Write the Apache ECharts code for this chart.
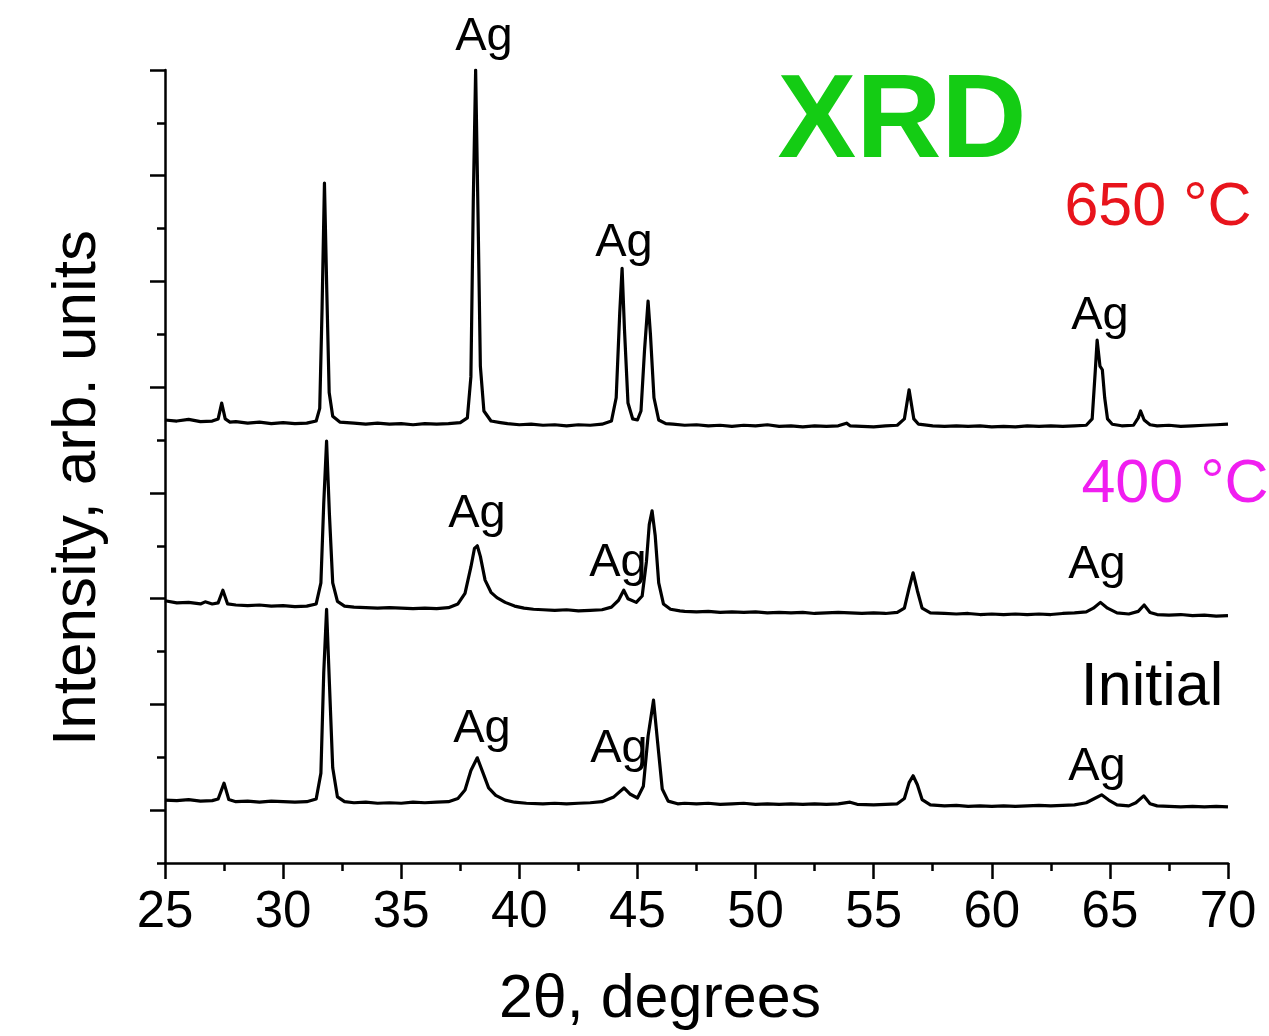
<!DOCTYPE html>
<html>
<head>
<meta charset="utf-8">
<script src="https://cdn.jsdelivr.net/npm/echarts@6/dist/echarts.min.js"></script>
<style>
  html, body { margin: 0; padding: 0; background: #fff; }
  #chart { width: 1269px; height: 1036px; }
</style>
</head>
<body>
<div id="chart"></div>
<script>
// XRD patterns (2theta in degrees, intensity in arb. units)
const xTicks = [25, 30, 35, 40, 45, 50, 55, 60, 65, 70];
const yMajorTicks = [1, 3, 5, 7, 9, 11, 13, 15];
const yMinorTicks = [0, 2, 4, 6, 8, 10, 12, 14];

const curve650 = [
  [25.0, 8.38], [25.5, 8.36], [26.0, 8.39], [26.5, 8.35], [27.0, 8.36], [27.25, 8.40], [27.4, 8.70], [27.55, 8.40],
  [27.75, 8.34], [28.0, 8.35], [28.5, 8.32], [29.0, 8.34], [29.5, 8.31], [30.0, 8.33], [30.5, 8.31], [31.0, 8.32],
  [31.4, 8.36], [31.55, 8.6], [31.65, 10.5], [31.75, 12.86], [31.85, 10.8], [31.95, 8.9], [32.1, 8.45], [32.4, 8.34],
  [33.0, 8.32], [33.5, 8.30], [34.0, 8.32], [34.5, 8.30], [35.0, 8.31], [35.5, 8.29], [36.0, 8.31], [36.5, 8.30],
  [37.0, 8.31], [37.5, 8.33], [37.8, 8.42], [37.95, 9.2], [38.05, 12.5], [38.15, 15.0], [38.25, 12.3], [38.35, 9.4],
  [38.5, 8.55], [38.8, 8.36], [39.2, 8.33], [39.5, 8.31], [40.0, 8.29], [40.5, 8.30], [41.0, 8.28], [41.5, 8.29],
  [42.0, 8.27], [42.5, 8.29], [43.0, 8.28], [43.5, 8.30], [43.9, 8.36], [44.1, 8.8], [44.25, 10.4], [44.35, 11.25],
  [44.45, 10.1], [44.6, 8.7], [44.8, 8.40], [45.0, 8.38], [45.15, 8.55], [45.3, 9.7], [45.45, 10.63], [45.55, 10.0],
  [45.7, 8.8], [45.9, 8.38], [46.2, 8.31], [46.5, 8.30], [47.0, 8.28], [47.5, 8.29], [48.0, 8.27], [48.5, 8.28],
  [49.0, 8.26], [49.5, 8.28], [50.0, 8.27], [50.5, 8.29], [51.0, 8.26], [51.5, 8.27], [52.0, 8.25], [52.5, 8.27],
  [53.0, 8.26], [53.5, 8.27], [53.85, 8.32], [54.0, 8.27], [54.5, 8.26], [55.0, 8.25], [55.5, 8.27], [56.0, 8.28],
  [56.3, 8.40], [56.5, 8.95], [56.7, 8.40], [56.9, 8.30], [57.5, 8.27], [58.0, 8.26], [58.5, 8.27], [59.0, 8.26],
  [59.5, 8.27], [60.0, 8.25], [60.5, 8.26], [61.0, 8.25], [61.5, 8.27], [62.0, 8.26], [62.5, 8.27], [63.0, 8.26],
  [63.5, 8.27], [64.0, 8.28], [64.25, 8.40], [64.38, 9.3], [64.46, 9.89], [64.58, 9.4], [64.68, 9.33], [64.78, 8.8],
  [64.9, 8.40], [65.1, 8.30], [65.5, 8.27], [66.0, 8.28], [66.2, 8.42], [66.3, 8.55], [66.45, 8.38], [66.7, 8.29],
  [67.0, 8.27], [67.5, 8.28], [68.0, 8.26], [68.5, 8.27], [69.0, 8.28], [69.5, 8.29], [70.0, 8.30]
];

const curve400 = [
  [25.0, 4.96], [25.5, 4.92], [26.0, 4.93], [26.5, 4.90], [26.7, 4.94], [27.0, 4.90], [27.25, 4.92], [27.45, 5.16],
  [27.65, 4.90], [28.0, 4.88], [28.5, 4.87], [29.0, 4.88], [29.5, 4.86], [30.0, 4.87], [30.5, 4.85], [31.0, 4.86],
  [31.4, 4.90], [31.6, 5.3], [31.72, 6.8], [31.84, 7.98], [31.96, 6.6], [32.1, 5.3], [32.3, 4.95], [32.6, 4.86],
  [33.0, 4.84], [33.5, 4.83], [34.0, 4.82], [34.5, 4.83], [35.0, 4.82], [35.5, 4.81], [36.0, 4.82], [36.5, 4.81],
  [37.0, 4.83], [37.4, 4.90], [37.7, 5.1], [37.95, 5.6], [38.1, 5.95], [38.22, 6.0], [38.35, 5.8], [38.55, 5.35],
  [38.8, 5.12], [39.05, 5.02], [39.4, 4.93], [39.8, 4.86], [40.2, 4.82], [40.6, 4.80], [41.0, 4.79], [41.5, 4.78],
  [42.0, 4.79], [42.5, 4.77], [43.0, 4.78], [43.5, 4.79], [43.9, 4.84], [44.2, 4.97], [44.42, 5.16], [44.6, 5.0],
  [44.95, 4.93], [45.2, 5.05], [45.38, 5.7], [45.5, 6.4], [45.62, 6.66], [45.75, 6.2], [45.9, 5.3], [46.1, 4.9],
  [46.4, 4.80], [46.8, 4.77], [47.0, 4.76], [47.5, 4.75], [48.0, 4.76], [48.5, 4.74], [49.0, 4.75], [49.5, 4.74],
  [50.0, 4.75], [50.5, 4.73], [51.0, 4.74], [51.5, 4.73], [52.0, 4.74], [52.5, 4.72], [53.0, 4.73], [53.5, 4.74],
  [54.0, 4.73], [54.5, 4.72], [55.0, 4.73], [55.5, 4.72], [56.0, 4.74], [56.3, 4.82], [56.5, 5.2], [56.67, 5.49],
  [56.85, 5.15], [57.05, 4.82], [57.4, 4.73], [58.0, 4.72], [58.5, 4.71], [59.0, 4.72], [59.5, 4.70], [60.0, 4.71],
  [60.5, 4.70], [61.0, 4.71], [61.5, 4.70], [62.0, 4.71], [62.5, 4.70], [63.0, 4.72], [63.5, 4.73], [64.0, 4.75],
  [64.3, 4.82], [64.6, 4.93], [64.9, 4.82], [65.3, 4.73], [65.8, 4.71], [66.2, 4.76], [66.45, 4.88], [66.7, 4.74],
  [67.0, 4.70], [67.5, 4.69], [68.0, 4.70], [68.5, 4.68], [69.0, 4.69], [69.5, 4.67], [70.0, 4.68]
];

const curveInitial = [
  [25.0, 1.19], [25.5, 1.18], [26.0, 1.20], [26.5, 1.17], [27.0, 1.18], [27.25, 1.21], [27.5, 1.51], [27.7, 1.20],
  [28.0, 1.16], [28.5, 1.17], [29.0, 1.15], [29.5, 1.17], [30.0, 1.16], [30.5, 1.15], [31.0, 1.16], [31.4, 1.21],
  [31.6, 1.7], [31.72, 3.6], [31.84, 4.80], [31.96, 3.4], [32.1, 1.8], [32.3, 1.25], [32.6, 1.16], [33.0, 1.14],
  [33.5, 1.15], [34.0, 1.13], [34.5, 1.14], [35.0, 1.13], [35.5, 1.15], [36.0, 1.14], [36.5, 1.15], [37.0, 1.16],
  [37.4, 1.22], [37.7, 1.38], [37.95, 1.75], [38.22, 1.99], [38.45, 1.72], [38.7, 1.42], [39.0, 1.28], [39.4, 1.19],
  [39.8, 1.15], [40.3, 1.13], [41.0, 1.12], [41.5, 1.13], [42.0, 1.12], [42.5, 1.13], [43.0, 1.14], [43.5, 1.16],
  [44.0, 1.25], [44.43, 1.42], [44.7, 1.30], [45.0, 1.23], [45.25, 1.45], [45.45, 2.4], [45.68, 3.08], [45.85, 2.3],
  [46.05, 1.4], [46.3, 1.17], [46.7, 1.12], [47.0, 1.13], [47.5, 1.12], [48.0, 1.13], [48.5, 1.11], [49.0, 1.12],
  [49.5, 1.13], [50.0, 1.11], [50.5, 1.12], [51.0, 1.11], [51.5, 1.12], [52.0, 1.11], [52.5, 1.12], [53.0, 1.11],
  [53.5, 1.12], [54.0, 1.15], [54.3, 1.11], [55.0, 1.10], [55.5, 1.11], [56.0, 1.12], [56.3, 1.22], [56.5, 1.52],
  [56.67, 1.65], [56.85, 1.48], [57.05, 1.2], [57.4, 1.10], [58.0, 1.08], [58.5, 1.09], [59.0, 1.07], [59.5, 1.08],
  [60.0, 1.07], [60.5, 1.08], [61.0, 1.07], [61.5, 1.08], [62.0, 1.09], [62.5, 1.08], [63.0, 1.09], [63.5, 1.10],
  [64.0, 1.14], [64.35, 1.22], [64.65, 1.29], [64.95, 1.19], [65.3, 1.10], [65.8, 1.08], [66.1, 1.14], [66.43, 1.27],
  [66.7, 1.12], [67.0, 1.08], [67.5, 1.07], [68.0, 1.06], [68.5, 1.07], [69.0, 1.06], [69.5, 1.07], [70.0, 1.06]
];

const FONT = '"Liberation Sans", Arial, Helvetica, sans-serif';

const chart = echarts.init(document.getElementById('chart'), null, { renderer: 'canvas' });

function agText(x, y) {
  return {
    type: 'text', x: x, y: y,
    style: { text: 'Ag', fill: '#000', font: '47px ' + FONT, textAlign: 'center', textVerticalAlign: 'middle' }
  };
}

function curveSeries(name, data) {
  return {
    name: name,
    type: 'line',
    data: data,
    showSymbol: false,
    symbol: 'none',
    lineStyle: { color: '#000', width: 3.2, join: 'round' },
    smooth: false,
    xAxisIndex: 0,
    yAxisIndex: 0
  };
}

const option = {
  animation: false,
  backgroundColor: '#fff',
  grid: { left: 165, right: 41, top: 70, bottom: 173 },
  xAxis: {
    type: 'value',
    min: 25,
    max: 70,
    interval: 5,
    axisLine: { show: true, onZero: false, lineStyle: { color: '#000', width: 2.5 } },
    axisTick: { show: true, inside: false, length: 16, lineStyle: { color: '#000', width: 2.5 } },
    minorTick: { show: true, splitNumber: 2, length: 8, lineStyle: { color: '#000', width: 2.5 } },
    axisLabel: { color: '#000', fontSize: 51, fontFamily: FONT, margin: 24 },
    splitLine: { show: false }
  },
  yAxis: [
    {
      type: 'value',
      min: 0,
      max: 15,
      position: 'left',
      axisLine: { show: true, onZero: false, lineStyle: { color: '#000', width: 2.5 } },
      axisTick: { show: true, inside: false, length: 15, customValues: yMajorTicks, lineStyle: { color: '#000', width: 2.5 } },
      axisLabel: { show: false },
      splitLine: { show: false }
    },
    {
      type: 'value',
      min: 0,
      max: 15,
      position: 'left',
      axisLine: { show: false },
      axisTick: { show: true, inside: false, length: 8, customValues: yMinorTicks, lineStyle: { color: '#000', width: 2.5 } },
      axisLabel: { show: false },
      splitLine: { show: false }
    }
  ],
  series: [
    curveSeries('Initial', curveInitial),
    curveSeries('400 °C', curve400),
    curveSeries('650 °C', curve650)
  ],
  graphic: [
    {
      type: 'text', x: 78, y: 488, rotation: Math.PI / 2,
      style: { text: 'Intensity, arb. units', fill: '#000', font: '62px ' + FONT, textAlign: 'center', textVerticalAlign: 'middle' }
    },
    {
      type: 'text', x: 660, y: 1000,
      style: { text: '2θ, degrees', fill: '#000', font: '61px ' + FONT, textAlign: 'center', textVerticalAlign: 'middle' }
    },
    {
      type: 'text', x: 902, y: 124,
      style: { text: 'XRD', fill: '#14cc14', font: 'bold 118px ' + FONT, textAlign: 'center', textVerticalAlign: 'middle' }
    },
    {
      type: 'text', x: 1158, y: 208,
      style: { text: '650 °C', fill: '#e8141c', font: '61px ' + FONT, textAlign: 'center', textVerticalAlign: 'middle' }
    },
    {
      type: 'text', x: 1175, y: 485,
      style: { text: '400 °C', fill: '#f01ef0', font: '61px ' + FONT, textAlign: 'center', textVerticalAlign: 'middle' }
    },
    {
      type: 'text', x: 1152, y: 688,
      style: { text: 'Initial', fill: '#000', font: '61px ' + FONT, textAlign: 'center', textVerticalAlign: 'middle' }
    },
    agText(484, 37),
    agText(624, 243),
    agText(1100, 316),
    agText(477, 514),
    agText(618, 563),
    agText(1097, 565),
    agText(482, 729),
    agText(619, 749),
    agText(1097, 767)
  ]
};

chart.setOption(option);
</script>
</body>
</html>
